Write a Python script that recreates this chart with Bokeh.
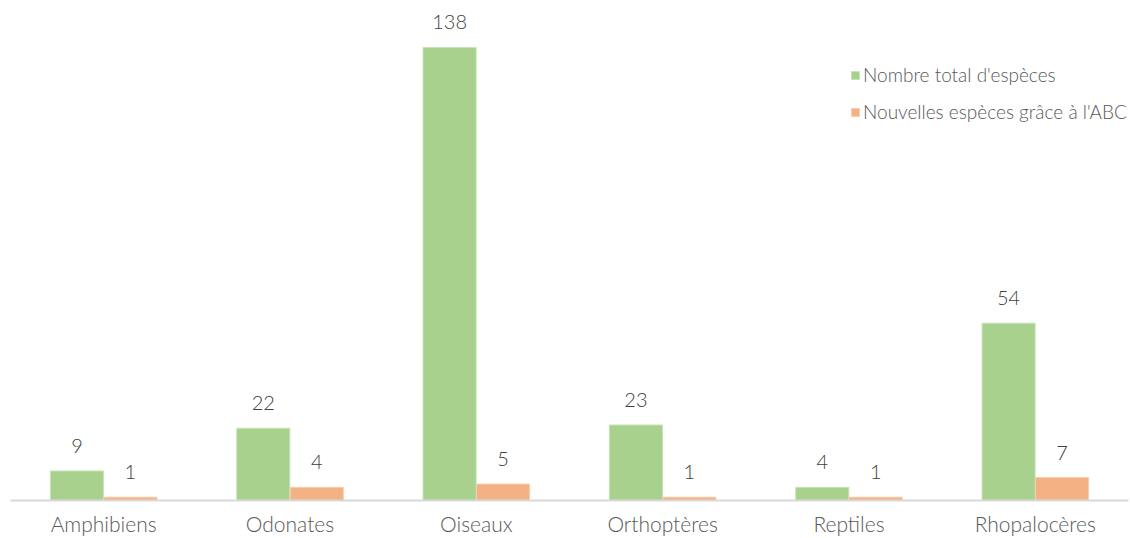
from bokeh.plotting import figure
from bokeh.models import ColumnDataSource, Legend, LegendItem, Range1d
from bokeh.transform import dodge
from bokeh.core.properties import value
from bokeh.embed import file_html
from bokeh.resources import INLINE

categories = ["Amphibiens", "Odonates", "Oiseaux", "Orthoptères", "Reptiles", "Rhopalocères"]
total_species = [9, 22, 138, 23, 4, 54]
new_species = [1, 4, 5, 1, 1, 7]
series_names = ["Nombre total d'espèces", "Nouvelles espèces grâce à l'ABC"]

GREEN = "#A9D18E"
ORANGE = "#F4B183"
FONT = "Lato Light"

src = ColumnDataSource(dict(
    cat=categories,
    total=total_species,
    new=new_species,
    total_lbl=[str(v) for v in total_species],
    new_lbl=[str(v) for v in new_species],
))

p = figure(x_range=categories, y_range=Range1d(0, 152.3), width=1130, height=538,
           output_backend="svg", toolbar_location=None,
           min_border_left=10, min_border_right=2, min_border_top=0, min_border_bottom=38)
p.outline_line_color = None
p.background_fill_color = "white"
p.border_fill_color = "white"

off = 0.1435
w = 0.285
r1 = p.vbar(x=dodge("cat", -off, range=p.x_range), top="total", width=w, source=src,
            fill_color=GREEN, line_color="#C9E3B8", line_width=1)
r2 = p.vbar(x=dodge("cat", off, range=p.x_range), top="new", width=w, source=src,
            fill_color=ORANGE, line_color="#F8CDAE", line_width=1)

p.text(x=dodge("cat", -off, range=p.x_range), y="total", text="total_lbl", source=src,
       text_align="center", text_baseline="alphabetic", y_offset=-25,
       text_font=value(FONT), text_font_size="20px", text_color="#404040")
p.text(x=dodge("cat", off, range=p.x_range), y="new", text="new_lbl", source=src,
       text_align="center", text_baseline="alphabetic", y_offset=-25,
       text_font=value(FONT), text_font_size="20px", text_color="#404040")

p.yaxis.visible = False
p.xgrid.grid_line_color = None
p.ygrid.grid_line_color = None
xa = p.xaxis[0]
xa.axis_line_color = "#D9D9D9"
xa.axis_line_width = 2
xa.major_tick_line_color = None
xa.minor_tick_line_color = None
xa.major_tick_out = 0
xa.major_tick_in = 0
xa.minor_tick_out = 0
xa.minor_tick_in = 0
xa.major_label_text_font = FONT
xa.major_label_text_font_size = "21px"
xa.major_label_text_color = "#595959"
xa.major_label_standoff = 10

legend = Legend(items=[LegendItem(label=series_names[0], renderers=[r1]),
                       LegendItem(label=series_names[1], renderers=[r2])],
                location=(840, 377), orientation="vertical",
                glyph_width=10, glyph_height=10, label_standoff=3,
                label_height=20, spacing=14, padding=0, margin=0,
                border_line_color=None, background_fill_alpha=0,
                label_text_font=FONT, label_text_font_size="19px",
                label_text_color="#595959")
p.add_layout(legend, "center")

open("out.html", "w").write(file_html(p, INLINE))
